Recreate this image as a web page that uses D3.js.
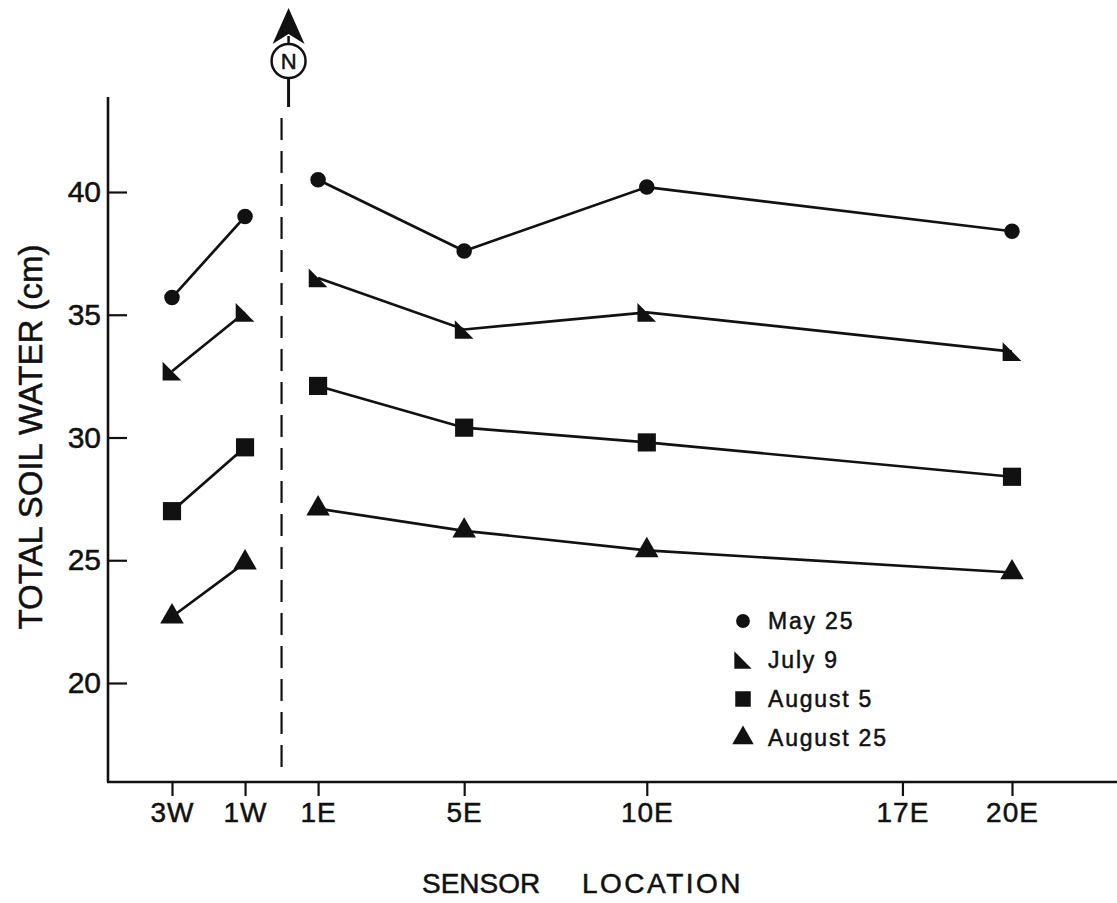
<!DOCTYPE html>
<html>
<head>
<meta charset="utf-8">
<script src="https://cdn.jsdelivr.net/npm/d3@7"></script>
<style>
  body { margin: 0; background: #fff; }
  text { font-family: "Liberation Sans", Arial, sans-serif; fill: #111; stroke: #111; stroke-width: 0.5px; }
</style>
</head>
<body>
<div id="chart"></div>
<script>
  // sensor positions (m, west negative) and tick labels
  let tickDist = [-3, -1, 1, 5, 10, 17, 20];
  let tickLabels = ['3W', '1W', '1E', '5E', '10E', '17E', '20E'];
  let siteDist = [-3, -1, 1, 5, 10, 20];
  let yTicks = [20, 25, 30, 35, 40];

  // total soil water (cm) per sensor, same order as siteDist
  let may25 = [35.7, 39.0, 40.5, 37.6, 40.2, 38.4];
  let july9 = [32.7, 35.1, 36.5, 34.4, 35.1, 33.5];
  let aug5 = [27.0, 29.6, 32.1, 30.4, 29.8, 28.4];
  let aug25 = [22.7, 24.9, 27.1, 26.2, 25.4, 24.5];

  let seriesNames = ['May 25', 'July 9', 'August 5', 'August 25'];

  let width = 1117;
  let height = 903;
  let axisX = 108;
  let axisY = 782;
  let axisTop = 97;

  let x = d3.scaleLinear().domain([-3, 20]).range([172, 1012]);
  let y = d3.scaleLinear().domain([20, 40]).range([683, 192]);

  //half triangle marker used for july 9
  let halfTri = {
    draw: function(ctx, size){
      let s = Math.sqrt(size);
      ctx.moveTo(-s / 2, -s / 2);
      ctx.lineTo(-s / 2, s / 2);
      ctx.lineTo(s / 2, s / 2);
      ctx.closePath();
    }
  };

  let symbolTypes = [d3.symbolCircle, halfTri, d3.symbolSquare, d3.symbolTriangle];
  let symbolSizes = [190, 350, 330, 240];
  let legendSizes = [150, 300, 240, 200];

  let series = [may25, july9, aug5, aug25].map((vals, i) => {
    return {
      name: seriesNames[i],
      points: vals.map((v, j) => ({ dist: siteDist[j], value: v }))
    };
  });

  let svg = d3.select('#chart')
    .append('svg')
    .attr('width', width)
    .attr('height', height);

  // axes frame
  svg.append('line')
    .attr('x1', axisX).attr('x2', axisX)
    .attr('y1', axisTop).attr('y2', axisY)
    .attr('stroke', '#111').attr('stroke-width', 2.6);

  svg.append('line')
    .attr('x1', axisX - 1).attr('x2', width)
    .attr('y1', axisY).attr('y2', axisY)
    .attr('stroke', '#111').attr('stroke-width', 2.6);

  // y ticks point inward
  let yAxis = svg.append('g')
    .attr('transform', `translate(${axisX},0)`)
    .call(d3.axisLeft(y).tickValues(yTicks).tickSize(-19).tickPadding(7));

  yAxis.select('.domain').remove();
  yAxis.selectAll('line').attr('stroke', '#111').attr('stroke-width', 2.2);
  yAxis.selectAll('text')
    .attr('font-size', 30)
    .attr('font-family', '"Liberation Sans", Arial, sans-serif')
    .attr('fill', '#111');

  let xAxis = svg.append('g')
    .attr('transform', `translate(0,${axisY})`)
    .call(d3.axisBottom(x).tickValues(tickDist)
      .tickFormat((d, i) => tickLabels[i])
      .tickSize(14).tickPadding(6));

  xAxis.select('.domain').remove();
  xAxis.selectAll('line').attr('stroke', '#111').attr('stroke-width', 2.2);
  xAxis.selectAll('text')
    .attr('font-size', 28)
    .attr('letter-spacing', 1)
    .attr('font-family', '"Liberation Sans", Arial, sans-serif')
    .attr('fill', '#111');

  // axis titles
  svg.append('text')
    .attr('transform', 'translate(42,437) rotate(-90)')
    .attr('text-anchor', 'middle')
    .attr('font-size', 33)
    .text('TOTAL SOIL WATER (cm)');

  svg.append('text')
    .attr('x', 422)
    .attr('y', 893)
    .attr('font-size', 28)
    .text('SENSOR');

  svg.append('text')
    .attr('x', 582)
    .attr('y', 893)
    .attr('font-size', 28)
    .attr('letter-spacing', 2.5)
    .text('LOCATION');

  // dashed line at the tree row (0 m)
  svg.append('line')
    .attr('x1', x(0)).attr('x2', x(0))
    .attr('y1', 118).attr('y2', axisY - 6)
    .attr('stroke', '#111')
    .attr('stroke-width', 2.2)
    .attr('stroke-dasharray', '22,11');

  // north arrow
  let north = svg.append('g').attr('transform', `translate(${x(0) + 7},0)`);

  north.append('path')
    .attr('d', 'M0,8 L-16,44 L0,34 L16,44 Z')
    .attr('fill', '#111');
  north.append('line')
    .attr('x1', 0).attr('x2', 0).attr('y1', 36).attr('y2', 44)
    .attr('stroke', '#111').attr('stroke-width', 2.5);
  north.append('circle')
    .attr('cx', 0).attr('cy', 61).attr('r', 17)
    .attr('fill', '#fff').attr('stroke', '#111').attr('stroke-width', 2.5);
  north.append('text')
    .attr('x', 0).attr('y', 69)
    .attr('text-anchor', 'middle')
    .attr('font-size', 22)
    .text('N');
  north.append('line')
    .attr('x1', 0).attr('x2', 0).attr('y1', 78).attr('y2', 107)
    .attr('stroke', '#111').attr('stroke-width', 3);

  // lines, split into west and east sides of the row
  let line = d3.line().x((d) => x(d.dist)).y((d) => y(d.value));

  series.forEach((s, i) => {
    let west = s.points.filter((p) => p.dist < 0);
    let east = s.points.filter((p) => p.dist > 0);

    [west, east].forEach((seg) => {
      svg.append('path')
        .datum(seg)
        .attr('d', line)
        .attr('fill', 'none')
        .attr('stroke', '#111')
        .attr('stroke-width', 2.7);
    });

    svg.selectAll(`.mark-${i}`)
      .data(s.points)
      .enter().append('path')
      .attr('class', `mark-${i}`)
      .attr('transform', (d) => `translate(${x(d.dist)},${y(d.value)})`)
      .attr('d', d3.symbol().type(symbolTypes[i]).size(symbolSizes[i]))
      .attr('fill', '#111');
  });

  // legend
  let legend = svg.append('g').attr('transform', 'translate(743,621)');

  seriesNames.forEach((name, i) => {
    let row = legend.append('g').attr('transform', `translate(0,${i * 39})`);
    row.append('path')
      .attr('d', d3.symbol().type(symbolTypes[i]).size(legendSizes[i]))
      .attr('fill', '#111');
    row.append('text')
      .attr('x', 25)
      .attr('y', 8)
      .attr('font-size', 23)
      .attr('letter-spacing', 1.8)
      .text(name);
  });
</script>
</body>
</html>
